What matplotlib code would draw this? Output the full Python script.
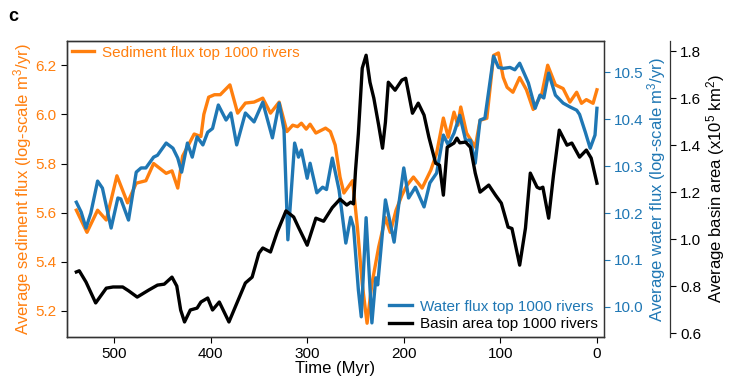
import numpy as np
import matplotlib
matplotlib.use('Agg')
import matplotlib.pyplot as plt

plt.rcParams['font.family'] = ['Liberation Sans', 'DejaVu Sans']

# Colours
c_sed = '#ff7f0e'
c_wat = '#1f77b4'
c_bas = 'black'

# Sediment flux (log-scale m3/yr) vs time (Myr)
sed_time = [539, 528, 517, 508, 497, 486, 477, 467, 459, 446, 440, 434, 429, 417, 410, 407, 402, 396, 390, 380,
            372, 364, 355, 346, 338, 329, 321, 315, 310, 306, 301, 297, 291, 281, 276, 271, 266, 262, 253, 248,
            243, 238, 233, 226, 219, 214, 208, 202, 197, 190, 181, 172, 166, 159, 154, 148, 144, 141, 135, 126,
            121, 114, 107, 102, 97, 93, 87, 80, 73, 66, 57, 51, 43, 35, 28, 21, 16, 11, 4, 0]
sed_flux = [5.61, 5.52, 5.61, 5.57, 5.75, 5.64, 5.72, 5.73, 5.80, 5.76, 5.77, 5.70, 5.83, 5.92, 5.91, 6.00, 6.07, 6.08, 6.08, 6.12,
            6.005, 6.046, 6.05, 6.066, 6.005, 6.05, 5.93, 5.956, 5.95, 5.964, 5.94, 5.96, 5.924, 5.944, 5.93, 5.875, 5.745, 5.68, 5.73, 5.54,
            5.31, 5.15, 5.31, 5.46, 5.58, 5.52, 5.61, 5.67, 5.71, 5.745, 5.70, 5.773, 5.842, 5.985, 5.907, 6.009, 5.956, 6.03, 5.924, 5.867,
            5.976, 5.984, 6.24, 6.25, 6.15, 6.11, 6.09, 6.15, 6.10, 6.02, 6.085, 6.20, 6.12, 6.105, 6.05, 6.09, 6.045, 6.06, 6.045, 6.10]

# Water flux (log-scale m3/yr)
water_time = [539, 534, 529, 524, 517, 512, 503, 496, 493, 485, 477, 472, 467, 459, 455, 446, 439, 434, 430, 424,
              419, 414, 408, 403, 398, 392, 384, 379, 373, 364, 355, 346, 336, 329, 324, 320, 313, 309, 306, 300,
              297, 290, 284, 280, 274, 267, 260, 255, 252, 247, 244, 239, 233, 229, 227, 219, 210, 205, 200, 195,
              188, 179, 173, 166, 159, 154, 148, 142, 136, 131, 126, 121, 116, 107, 102, 97, 90, 85, 80, 71,
              64, 59, 55, 50, 43, 35, 28, 21, 18, 12, 7, 2, 0]
water_flux = [10.223, 10.202, 10.168, 10.20, 10.268, 10.253, 10.168, 10.232, 10.23, 10.185, 10.287, 10.296, 10.296, 10.319, 10.323, 10.349, 10.338, 10.317, 10.287, 10.349,
              10.319, 10.362, 10.345, 10.372, 10.38, 10.43, 10.398, 10.413, 10.345, 10.413, 10.394, 10.436, 10.36, 10.434, 10.377, 10.143, 10.349, 10.319, 10.334, 10.274,
              10.306, 10.243, 10.255, 10.25, 10.317, 10.249, 10.136, 10.191, 10.17, 10.036, 9.979, 10.19, 9.966, 10.062, 10.047, 10.228, 10.138, 10.221, 10.296, 10.232,
              10.255, 10.213, 10.264, 10.285, 10.366, 10.345, 10.37, 10.408, 10.355, 10.355, 10.306, 10.398, 10.402, 10.534, 10.51, 10.508, 10.51, 10.505, 10.519, 10.477,
              10.423, 10.451, 10.445, 10.498, 10.451, 10.434, 10.426, 10.419, 10.41, 10.372, 10.338, 10.366, 10.423]

# Basin area (x10^5 km2)
basin_time = [539, 536, 529, 519, 508, 501, 491, 485, 476, 464, 455, 448, 440, 435, 431, 427, 421, 414, 410, 403,
              398, 391, 381, 372, 364, 357, 350, 346, 338, 331, 322, 314, 309, 300, 291, 283, 274, 266, 259, 255,
              252, 250, 247, 243, 239, 235, 231, 226, 222, 219, 216, 209, 202, 198, 191, 185, 179, 174, 167, 163,
              159, 155, 148, 145, 142, 136, 131, 126, 121, 112, 105, 99, 92, 88, 85, 80, 74, 69, 62, 59,
              56, 50, 45, 39, 31, 26, 18, 11, 6, 0]
basin_area = [0.86, 0.865, 0.817, 0.728, 0.791, 0.796, 0.796, 0.78, 0.753, 0.783, 0.804, 0.808, 0.838, 0.80, 0.698, 0.647, 0.698, 0.706, 0.732, 0.749,
              0.698, 0.732, 0.647, 0.735, 0.813, 0.838, 0.94, 0.962, 0.945, 1.03, 1.12, 1.094, 1.05, 0.974, 1.089, 1.076, 1.134, 1.17, 1.145, 1.157,
              1.15, 1.29, 1.45, 1.728, 1.783, 1.668, 1.60, 1.485, 1.387, 1.498, 1.668, 1.634, 1.677, 1.685, 1.536, 1.579, 1.528, 1.434, 1.323, 1.315,
              1.187, 1.391, 1.409, 1.43, 1.41, 1.413, 1.391, 1.281, 1.2, 1.23, 1.187, 1.153, 1.051, 1.045, 0.987, 0.889, 1.047, 1.281, 1.221, 1.215,
              1.221, 1.089, 1.272, 1.464, 1.40, 1.409, 1.349, 1.379, 1.345, 1.238]

lw = 2.4
fs = 11      # ticks and legends
fs_lab = 12  # axis labels

fig, ax = plt.subplots(figsize=(7.32, 3.81), dpi=100)
fig.subplots_adjust(left=0.0915, right=0.825, bottom=0.1155, top=0.892)

l1, = ax.plot(sed_time, sed_flux, color=c_sed, lw=lw, label='Sediment flux top 1000 rivers')
ax.set_xlim(548.7, -7.2)
ax.set_ylim(5.094, 6.298)
ax.set_yticks([5.2, 5.4, 5.6, 5.8, 6.0, 6.2])
ax.set_xticks([500, 400, 300, 200, 100, 0])
ax.set_xlabel('Time (Myr)', fontsize=fs_lab, labelpad=0)
ax.set_ylabel('Average sediment flux (log-scale m$\\mathregular{^3}$/yr)', color=c_sed, fontsize=fs_lab, labelpad=1)
ax.tick_params(axis='y', labelcolor=c_sed, labelsize=fs, length=4, width=0.8)
ax.tick_params(axis='x', labelsize=fs, length=4, width=0.8)

ax2 = ax.twinx()
l2, = ax2.plot(water_time, water_flux, color=c_wat, lw=lw, label='Water flux top 1000 rivers')
ax2.set_ylim(9.936, 10.566)
ax2.set_yticks([10.0, 10.1, 10.2, 10.3, 10.4, 10.5])
ax2.set_ylabel('Average water flux (log-scale m$\\mathregular{^3}$/yr)', color=c_wat, fontsize=fs_lab, labelpad=1)
ax2.tick_params(axis='y', colors=c_wat, labelsize=fs, length=4, width=0.8)

ax3 = ax.twinx()
ax3.spines['right'].set_position(('outward', 47.5))
l3, = ax3.plot(basin_time, basin_area, color=c_bas, lw=lw, label='Basin area top 1000 rivers')
ax3.set_ylim(0.583, 1.843)
ax3.set_yticks([0.6, 0.8, 1.0, 1.2, 1.4, 1.6, 1.8])
ax3.set_ylabel('Average basin area (x10$\\mathregular{^5}$ km$\\mathregular{^2}$)', fontsize=fs_lab, labelpad=2)
ax3.tick_params(axis='y', labelsize=fs, length=4, width=0.8)

for a in (ax, ax2, ax3):
    for s in a.spines.values():
        s.set_linewidth(0.9)
        s.set_color('#333333')

leg1 = ax3.legend(handles=[l1], loc='upper left', frameon=False, fontsize=fs,
                  handlelength=1.5, handletextpad=0.5, borderaxespad=0.1, borderpad=0.2)
for t in leg1.get_texts():
    t.set_color(c_sed)
ax3.add_artist(leg1)
leg2 = ax3.legend(handles=[l2, l3], loc='lower right', frameon=False, fontsize=fs,
                  handlelength=1.5, handletextpad=0.5, borderaxespad=0.2, borderpad=0.2, labelspacing=0.2)
leg2.get_texts()[0].set_color(c_wat)
leg2.get_texts()[1].set_color(c_bas)

fig.text(0.011, 0.945, 'c', fontsize=13, fontweight='bold')

fig.savefig('out.png', dpi=100)
